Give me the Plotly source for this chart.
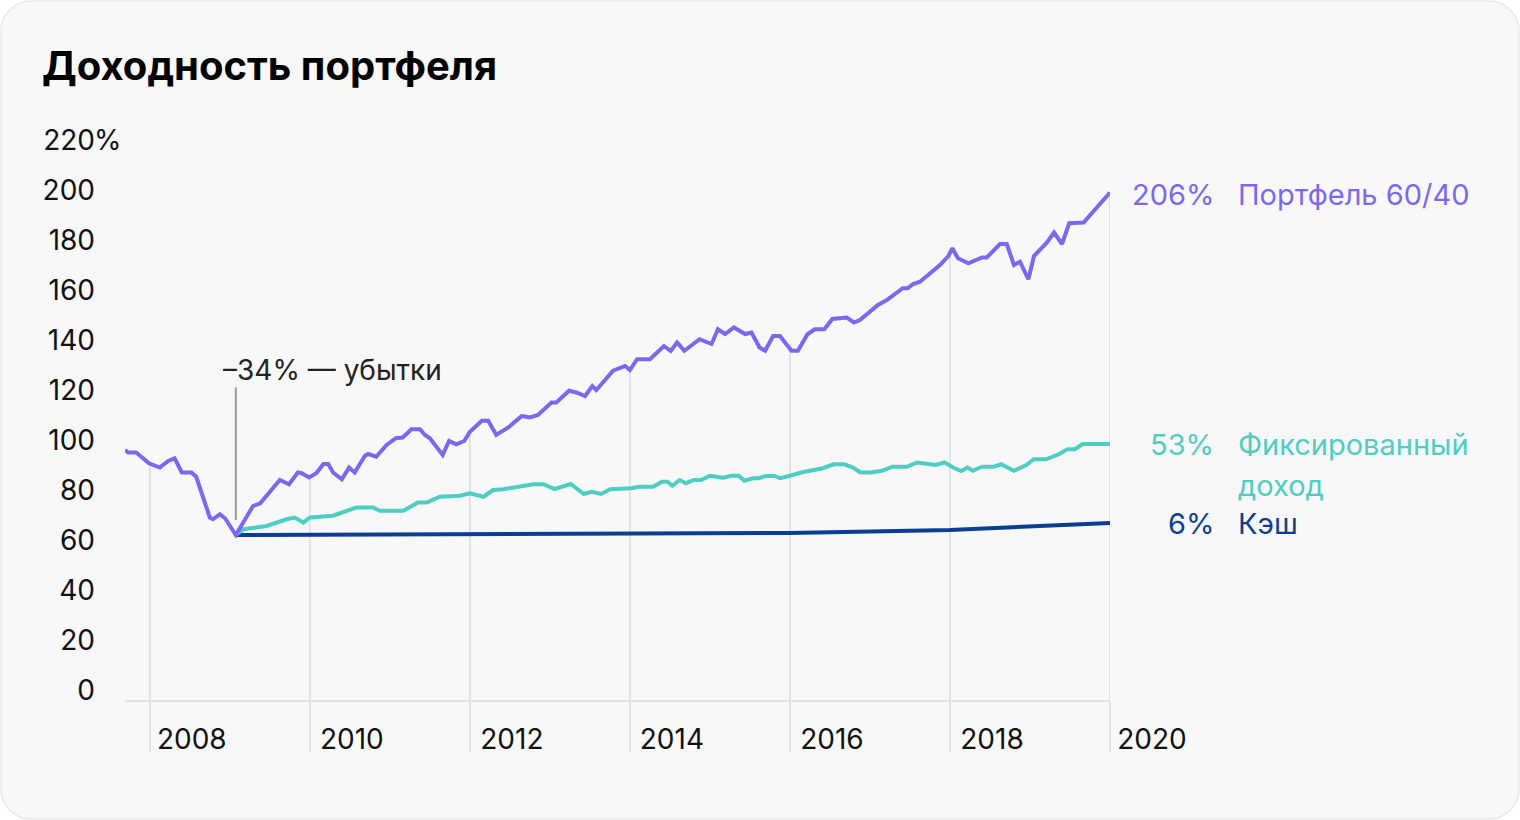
import numpy as np
import plotly.graph_objects as go

# ---------------- data ----------------
portfolio_x = [2007.69, 2007.73, 2007.83, 2007.99, 2008.125, 2008.23, 2008.31, 2008.40, 2008.52, 2008.58,
               2008.75, 2008.79, 2008.875, 2008.94, 2009.075, 2009.29, 2009.38, 2009.625, 2009.74, 2009.85,
               2009.90, 2009.99, 2010.08, 2010.17, 2010.23, 2010.29, 2010.40, 2010.49, 2010.56, 2010.69,
               2010.73, 2010.83, 2010.96, 2011.075, 2011.16, 2011.27, 2011.375, 2011.44, 2011.50, 2011.66,
               2011.74, 2011.83, 2011.93, 2012.00, 2012.15, 2012.23, 2012.33, 2012.48, 2012.65, 2012.75,
               2012.85, 2013.02, 2013.08, 2013.24, 2013.33, 2013.44, 2013.53, 2013.58, 2013.79, 2013.875,
               2013.94, 2014.00, 2014.09, 2014.25, 2014.425, 2014.51, 2014.59, 2014.68, 2014.87, 2015.02,
               2015.10, 2015.19, 2015.30, 2015.44, 2015.52, 2015.62, 2015.69, 2015.79, 2015.875, 2016.02,
               2016.10, 2016.22, 2016.31, 2016.43, 2016.53, 2016.71, 2016.80, 2016.875, 2017.10, 2017.21,
               2017.41, 2017.47, 2017.54, 2017.625, 2017.79, 2017.875, 2017.98, 2018.03, 2018.10, 2018.23,
               2018.40, 2018.46, 2018.625, 2018.71, 2018.80, 2018.875, 2018.98, 2019.05, 2019.21, 2019.30,
               2019.40, 2019.49, 2019.67, 2020.00]
portfolio_y = [96, 95, 95, 90.7, 89, 91.6, 92.7, 87, 87, 85.3,
               69, 68.3, 70.3, 68.7, 62, 73.6, 74.7, 84, 82.3, 87,
               86.7, 85, 86.7, 90.4, 90.4, 87, 84.3, 89, 87, 93.7,
               94.4, 93.3, 98, 100.7, 101, 104.3, 104.3, 102, 100.7, 94,
               99.6, 98.3, 99.6, 103.3, 107.7, 107.7, 102, 105, 109.6, 109,
               110, 115, 115, 119.7, 119, 117.6, 121.6, 120, 127.7, 129,
               129.6, 128, 132.3, 132.3, 137.6, 135.6, 139, 135.7, 140.3, 138.4,
               144.3, 142.4, 145, 142.4, 143, 137, 135.7, 141.6, 141.6, 135.7,
               135.7, 142.3, 144.3, 144.3, 148.4, 149, 147, 148, 154, 156,
               160.7, 160.7, 162.4, 163.3, 168, 170, 173.6, 176.7, 172.7, 170.7,
               173, 173, 178.4, 178.4, 170, 171.3, 164.3, 173.6, 178.9, 183,
               178.4, 186.7, 187, 199]

fixed_x = [2009.075, 2009.17, 2009.46, 2009.58, 2009.71, 2009.81, 2009.92, 2010.00, 2010.17, 2010.29,
           2010.58, 2010.79, 2010.875, 2011.17, 2011.35, 2011.46, 2011.625, 2011.875, 2012.00, 2012.17,
           2012.29, 2012.42, 2012.79, 2012.92, 2013.06, 2013.26, 2013.425, 2013.52, 2013.64, 2013.755,
           2014.02, 2014.11, 2014.29, 2014.40, 2014.47, 2014.53, 2014.62, 2014.70, 2014.795, 2014.89,
           2015.00, 2015.16, 2015.27, 2015.36, 2015.43, 2015.54, 2015.61, 2015.70, 2015.81, 2015.875,
           2015.99, 2016.14, 2016.41, 2016.545, 2016.68, 2016.79, 2016.88, 2017.01, 2017.15, 2017.28,
           2017.46, 2017.59, 2017.82, 2017.93, 2018.04, 2018.14, 2018.22, 2018.285, 2018.40, 2018.55,
           2018.64, 2018.80, 2018.955, 2019.045, 2019.20, 2019.36, 2019.47, 2019.56, 2019.66, 2020.00]
fixed_y = [62, 64.3, 65.6, 67, 68.3, 69, 67, 69, 69.6, 69.7,
           73, 73, 71.7, 71.7, 75, 75, 77.3, 77.7, 78.7, 77.3,
           80, 80.3, 82.3, 82.3, 80.4, 82.4, 78.4, 79.3, 78.4, 80.3,
           80.7, 81.3, 81.3, 83.3, 83.3, 81.7, 84, 82.7, 84, 84,
           85.7, 84.9, 85.7, 85.7, 83.7, 84.7, 84.7, 85.6, 85.6, 84.7,
           85.6, 87, 88.7, 90.3, 90.3, 89, 87, 87, 87.7, 89.3,
           89.3, 91, 90, 91, 89, 87.6, 89, 87.7, 89.3, 89.3,
           90.3, 87.7, 90, 92.3, 92.3, 94.3, 96.3, 96.3, 98.4, 98.4]

cash_x = [2009.075, 2012.0, 2014.0, 2016.0, 2018.0, 2020.0]
cash_y = [62.0, 62.3, 62.6, 62.8, 64.0, 66.8]

series_names = ["Портфель 60/40", "Фиксированный<br>доход", "Кэш"]
series_results = ["206%", "53%", "6%"]

x_tick_vals = [2008, 2010, 2012, 2014, 2016, 2018, 2020]
x_tick_text = ["2008", "2010", "2012", "2014", "2016", "2018", "2020"]
y_tick_vals = [0, 20, 40, 60, 80, 100, 120, 140, 160, 180, 200, 220]
y_tick_text = ["0", "20", "40", "60", "80", "100", "120", "140", "160", "180", "200", "220"]

title_text = "Доходность портфеля"
loss_text = "–34% — убытки"

# ---------------- style ----------------
FONT = "Inter"
C_PURPLE = "#7B68EE"
C_TEAL = "#4ECDC4"
C_CASH = "#0B3F93"
C_GRID = "#E2E2E2"
C_TEXT = "#111111"
Y_MIN, Y_MAX = -4, 222
X_MIN, X_MAX = 2007.69, 2020.0
FS = 28
FS_LABEL = 29
LW = 4

fig = go.Figure()

# drop lines from the portfolio line down to the axis at each tick year
drop_top = np.interp(x_tick_vals, portfolio_x, portfolio_y)
dx, dy = [], []
for xv, tv in zip(x_tick_vals, drop_top):
    dx += [xv, xv, None]
    dy += [tv, Y_MIN, None]
fig.add_trace(go.Scatter(x=dx, y=dy, mode="lines", line=dict(color=C_GRID, width=2),
                         hoverinfo="skip", showlegend=False))

fig.add_trace(go.Scatter(x=cash_x, y=cash_y, mode="lines", line=dict(color=C_CASH, width=LW),
                         showlegend=False))
fig.add_trace(go.Scatter(x=fixed_x, y=fixed_y, mode="lines", line=dict(color=C_TEAL, width=LW),
                         showlegend=False))
fig.add_trace(go.Scatter(x=portfolio_x, y=portfolio_y, mode="lines", line=dict(color=C_PURPLE, width=LW),
                         showlegend=False))

# card background (rounded rectangle) in paper coords
L, R, T, B = 125, 1110, 135, 700
W, H = R - L, B - T
def px(xp):
    return (xp - L) / W
def py(yp):
    return (B - yp) / H
x0, x1, y0, y1, r = 1, 1519, 1, 819, 30
k = 0.45
path = (f"M {px(x0+r)},{py(y0)} L {px(x1-r)},{py(y0)} "
        f"C {px(x1-r*k)},{py(y0)} {px(x1)},{py(y0+r*k)} {px(x1)},{py(y0+r)} "
        f"L {px(x1)},{py(y1-r)} "
        f"C {px(x1)},{py(y1-r*k)} {px(x1-r*k)},{py(y1)} {px(x1-r)},{py(y1)} "
        f"L {px(x0+r)},{py(y1)} "
        f"C {px(x0+r*k)},{py(y1)} {px(x0)},{py(y1-r*k)} {px(x0)},{py(y1-r)} "
        f"L {px(x0)},{py(y0+r)} "
        f"C {px(x0)},{py(y0+r*k)} {px(x0+r*k)},{py(y0)} {px(x0+r)},{py(y0)} Z")
fig.add_shape(type="path", path=path, xref="paper", yref="paper", layer="below",
              fillcolor="#F8F8F8", line=dict(color="#E9E9E9", width=1.5))

# loss annotation
i_min = int(np.argmin(portfolio_y))
trough_x, trough_y = portfolio_x[i_min], portfolio_y[i_min]
fig.add_shape(type="line", x0=trough_x, x1=trough_x, y0=trough_y + 6, y1=121,
              line=dict(color="#9A9A9A", width=2))
fig.add_annotation(x=trough_x, y=128, text=loss_text, showarrow=False, xanchor="left",
                   yanchor="middle", xshift=-15, font=dict(family=FONT, size=FS, color="#222222"))

# end labels
ends = [portfolio_y[-1], fixed_y[-1], cash_y[-1]]
colors = [C_PURPLE, C_TEAL, C_CASH]
label_y = [ends[0] - 0.8, ends[1] - 0.2, ends[2]]
for name, res, yv, col in zip(series_names, series_results, label_y, colors):
    fig.add_annotation(x=X_MAX, y=yv, text=res, showarrow=False, xanchor="right", yanchor="middle",
                       xshift=106, font=dict(family=FONT, size=FS_LABEL, color=col))
    for j, line_txt in enumerate(name.split("<br>")):
        fig.add_annotation(x=X_MAX, y=yv, text=line_txt, showarrow=False, xanchor="left",
                           yanchor="middle", xshift=126, yshift=-41 * j,
                           font=dict(family=FONT, size=FS_LABEL, color=col))

# percent sign next to top y label
fig.add_annotation(x=0, y=220, xref="paper", yref="y", text="%", showarrow=False,
                   xanchor="left", yanchor="middle", xshift=-33,
                   font=dict(family=FONT, size=FS, color=C_TEXT))

# title
fig.add_annotation(x=px(40), y=py(65), xref="paper", yref="paper", text=f"<b>{title_text}</b>",
                   showarrow=False, xanchor="left", yanchor="middle",
                   font=dict(family=FONT, size=40, color="#000000"))

fig.update_layout(
    width=1520, height=820,
    margin=dict(l=L, r=1520 - R, t=T, b=820 - B),
    paper_bgcolor="#FFFFFF", plot_bgcolor="rgba(0,0,0,0)",
    font=dict(family=FONT, size=FS, color=C_TEXT),
    showlegend=False,
    hovermode=False,
)
fig.update_xaxes(range=[X_MIN, X_MAX], showgrid=False, zeroline=False,
                 showline=True, linecolor=C_GRID, linewidth=2,
                 tickmode="array", tickvals=x_tick_vals, ticktext=x_tick_text,
                 ticks="outside", ticklen=50, tickwidth=2, tickcolor=C_GRID,
                 ticklabelstandoff=-37, ticklabelshift=42,
                 tickfont=dict(family=FONT, size=FS, color=C_TEXT))
fig.update_yaxes(range=[Y_MIN, Y_MAX], showgrid=False, zeroline=False, showline=False,
                 tickmode="array", tickvals=y_tick_vals, ticktext=y_tick_text,
                 ticks="", ticklabelstandoff=29,
                 tickfont=dict(family=FONT, size=FS, color=C_TEXT))

fig.write_html("out.html", config={"displayModeBar": False},
               post_script="document.body.style.margin='0';document.body.style.padding='0';")
